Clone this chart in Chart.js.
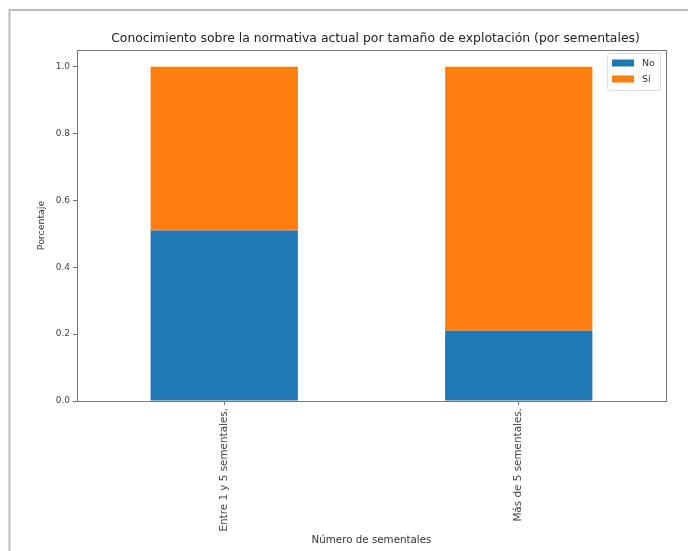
<!DOCTYPE html>
<html>
<head>
<meta charset="utf-8">
<script src="https://cdn.jsdelivr.net/npm/chart.js@4.4.0/dist/chart.umd.min.js"></script>
<style>
html,body{margin:0;padding:0;background:#fff;}
#wrap{width:688px;height:551px;position:relative;}
</style>
</head>
<body>
<div id="wrap"><canvas id="c" width="688" height="551"></canvas></div>
<script>
const categories = ["Entre 1 y 5 sementales.", "Más de 5 sementales."];
const seriesNames = ["No", "Sí"];
const noValues = [0.51, 0.21];
const siValues = [0.49, 0.79];
const yTicks = [0.0, 0.2, 0.4, 0.6, 0.8, 1.0];
const titleText = "Conocimiento sobre la normativa actual por tamaño de explotación (por sementales)";
const xTitle = "Número de sementales";
const yTitle = "Porcentaje";
const colors = ["#1f77b4", "#ff7f0e"];

const FONT = "'DejaVu Sans', sans-serif";

const framePlugin = {
  id: 'frame',
  beforeDraw(chart) {
    const ctx = chart.ctx;
    ctx.save();
    ctx.fillStyle = '#fff';
    ctx.fillRect(0, 0, chart.width, chart.height);
    ctx.strokeStyle = '#bdbdbd';
    ctx.lineWidth = 2;
    ctx.beginPath();
    ctx.moveTo(9.5, chart.height);
    ctx.lineTo(9.5, 10);
    ctx.lineTo(chart.width, 10);
    ctx.stroke();
    ctx.restore();
  },
  afterDraw(chart) {
    const ctx = chart.ctx;
    const a = chart.chartArea;
    ctx.save();
    ctx.strokeStyle = '#777';
    ctx.lineWidth = 1;
    ctx.strokeRect(Math.round(a.left) + 0.5, Math.round(a.top) + 0.5, Math.round(a.right - a.left), Math.round(a.bottom - a.top));
    // title
    ctx.fillStyle = '#222';
    ctx.font = "12.4px " + FONT;
    ctx.textAlign = 'center';
    ctx.textBaseline = 'alphabetic';
    ctx.fillText(titleText, (a.left + a.right) / 2 + 4, 42);
    // legend
    const ds = chart.data.datasets;
    const bw = 53, bh = 37;
    const bx = a.right - 6 - bw, by = a.top + 3;
    ctx.fillStyle = 'rgba(255,255,255,0.8)';
    ctx.strokeStyle = '#dddddd';
    ctx.lineWidth = 1;
    ctx.beginPath();
    if (ctx.roundRect) ctx.roundRect(bx + 0.5, by + 0.5, bw, bh, 2); else ctx.rect(bx + 0.5, by + 0.5, bw, bh);
    ctx.fill();
    ctx.stroke();
    ctx.font = "9.5px " + FONT;
    ctx.textAlign = 'left';
    ctx.textBaseline = 'middle';
    ds.forEach((d, i) => {
      const cy = by + 10 + i * 16;
      ctx.fillStyle = d.backgroundColor;
      ctx.fillRect(bx + 5, cy - 3.5, 22, 7);
      ctx.fillStyle = '#333';
      ctx.fillText(d.label, bx + 35, cy + 1);
    });
    ctx.restore();
  }
};

new Chart(document.getElementById('c'), {
  type: 'bar',
  data: {
    labels: categories,
    datasets: [
      { label: seriesNames[0], data: noValues, backgroundColor: colors[0] },
      { label: seriesNames[1], data: siValues, backgroundColor: colors[1] }
    ]
  },
  options: {
    responsive: false,
    animation: false,
    devicePixelRatio: 1,
    layout: { padding: { left: 36, top: 50, right: 22, bottom: 4 } },
    datasets: { bar: { barPercentage: 0.5, categoryPercentage: 1.0, borderWidth: 0 } },
    plugins: { legend: { display: false }, title: { display: false }, tooltip: { enabled: false } },
    scales: {
      x: {
        stacked: true,
        offset: true,
        grid: { display: true, drawOnChartArea: false, drawTicks: true, tickLength: 4, color: '#777', offset: false },
        border: { display: false },
        ticks: { color: '#444', font: { family: FONT, size: 10.4 }, maxRotation: 90, minRotation: 90, padding: 3 },
        title: { display: true, text: xTitle, color: '#333', font: { family: FONT, size: 10.3 }, padding: { top: 0, bottom: 0 } },
        afterFit(s) { s.height = 146; }
      },
      y: {
        stacked: true,
        min: 0,
        max: 1.05,
        grid: { display: true, drawOnChartArea: false, drawTicks: true, tickLength: 4, color: '#777' },
        border: { display: false },
        afterBuildTicks(s) { s.ticks = yTicks.map(v => ({ value: v })); },
        ticks: { color: '#444', font: { family: FONT, size: 9 }, padding: 3, callback: v => Number(v).toFixed(1) },
        title: { display: true, text: yTitle, color: '#333', font: { family: FONT, size: 9.4 }, padding: { top: 0, bottom: 4 } },
        afterFit(s) { s.width = 41; }
      }
    }
  },
  plugins: [framePlugin]
});
</script>
</body>
</html>
